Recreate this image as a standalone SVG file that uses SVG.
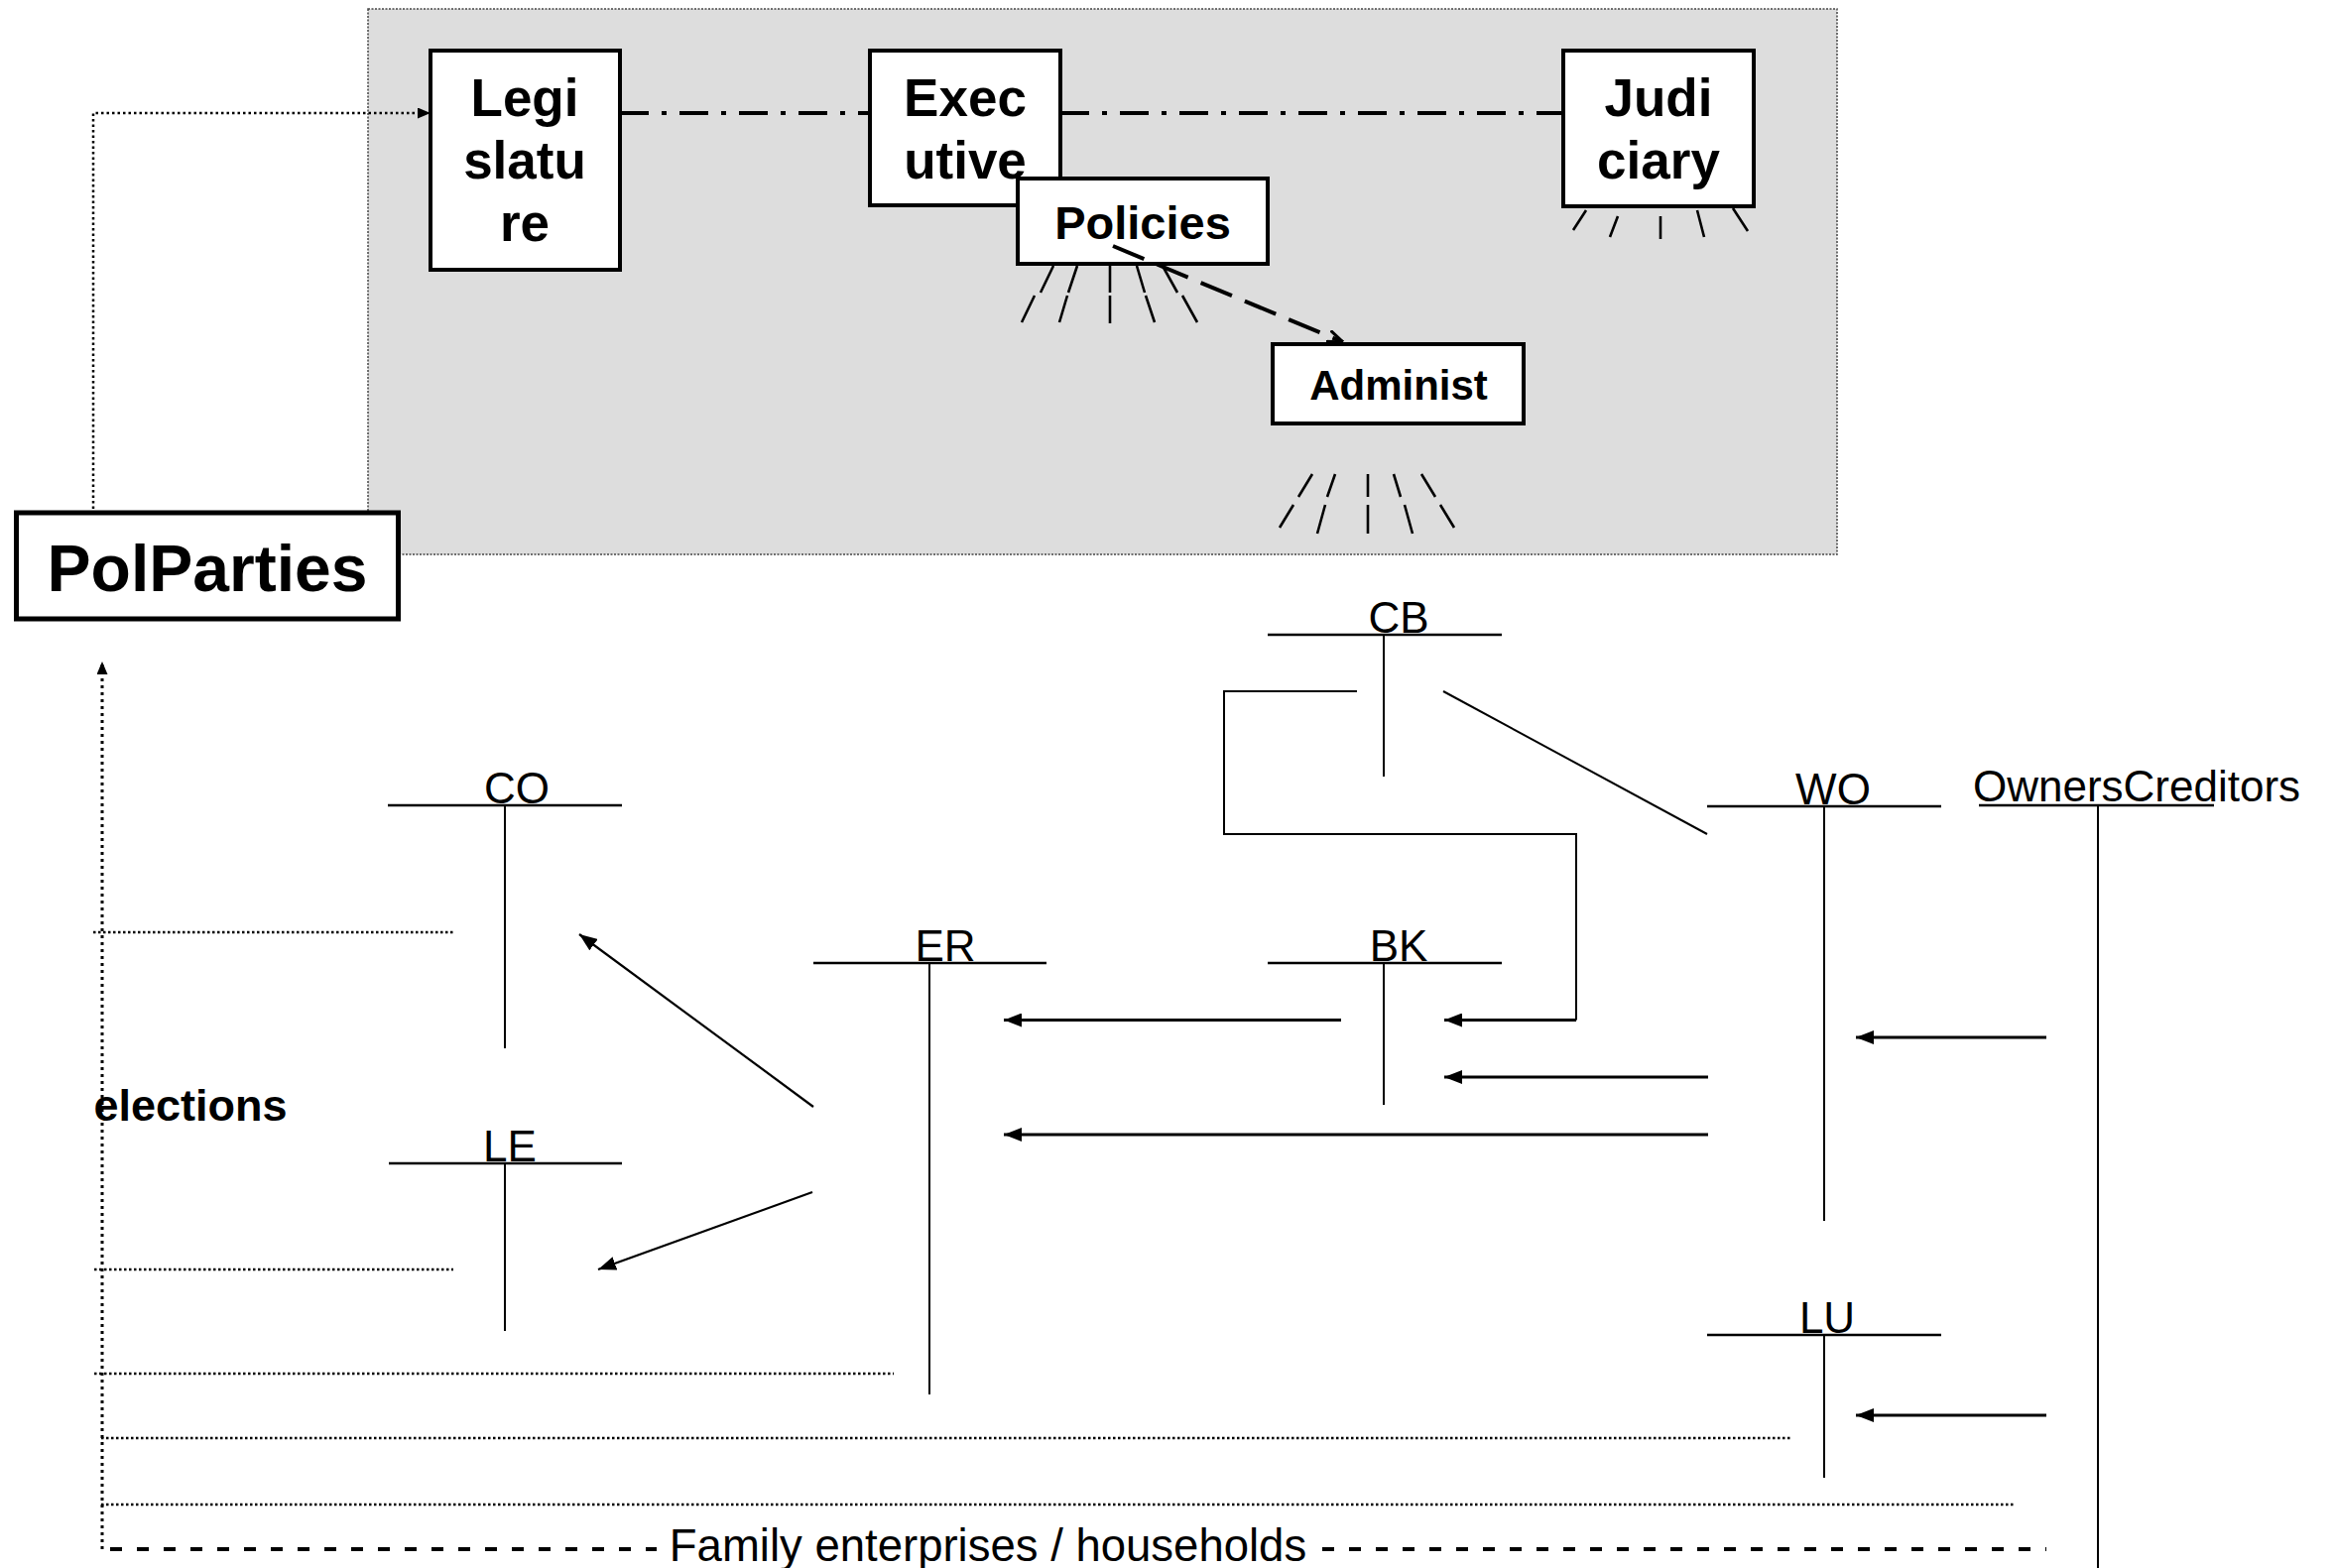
<svg xmlns="http://www.w3.org/2000/svg" width="2355" height="1581" viewBox="0 0 2355 1581">
<style>
.box{fill:#fff;stroke:#000;stroke-width:4}
.bt{font-family:"Liberation Sans",Arial,sans-serif;font-weight:bold;text-anchor:middle;fill:#000}
.lt{font-family:"Liberation Sans",Arial,sans-serif;font-size:44px;text-anchor:middle;fill:#000}
.tl{stroke:#000;stroke-width:2.6;fill:none}
.vl{stroke:#000;stroke-width:2;fill:none}
.ray{stroke:#000;stroke-width:2.6;fill:none}
.arr{stroke:#000;stroke-width:3;fill:none;marker-end:url(#ah)}
.arrt{stroke:#000;stroke-width:2.2;fill:none;marker-end:url(#ah)}
.dot{stroke:#000;stroke-width:2.6;fill:none;stroke-dasharray:2.5 2.5}
.dashdot{stroke:#000;stroke-width:4.2;fill:none;stroke-dasharray:29 13 5 13}
</style>
<defs>
<marker id="ah" markerUnits="userSpaceOnUse" markerWidth="18" markerHeight="14" refX="18" refY="7" orient="auto"><path d="M0,0 L18,7 L0,14 z" fill="#000"/></marker>
<marker id="ahs" markerUnits="userSpaceOnUse" markerWidth="13" markerHeight="11" refX="13" refY="5.5" orient="auto"><path d="M0,0 L13,5.5 L0,11 z" fill="#000"/></marker>
<marker id="ahd" markerUnits="userSpaceOnUse" markerWidth="16" markerHeight="14" refX="16" refY="7" orient="auto"><path d="M0,1 L16,7 L0,13" fill="none" stroke="#000" stroke-width="3"/></marker>
</defs>
<rect x="0" y="0" width="2355" height="1581" fill="#fff"/>
<g id="government">
<rect x="371" y="9" width="1481" height="550" fill="#ddd" stroke="#444" stroke-width="1.5" stroke-dasharray="2 1.5"/>
</g>
<g id="connectors">
<path class="dashdot" d="M625,114 H877"/>
<path class="dashdot" d="M1069,114 H1576"/>
<path d="M94,513 V114 H434" fill="none" stroke="#000" stroke-width="2.5" stroke-dasharray="2.5 3" marker-end="url(#ahs)"/>
<path d="M103,1562 V667" fill="none" stroke="#000" stroke-width="3" stroke-dasharray="3 4" marker-end="url(#ahs)"/>
<path class="dot" d="M94,940 H457"/>
<path class="dot" d="M95,1280 H457"/>
<path class="dot" d="M95,1385 H901"/>
<path class="dot" d="M102,1450 H1807"/>
<path class="dot" d="M102,1517 H2032"/>
<path d="M111,1562 H662 M1333,1562 H2063" fill="none" stroke="#000" stroke-width="4" stroke-dasharray="12 15"/>
<path class="vl" d="M1368,697 H1234 V841 H1589 V1028.5"/>
<line class="arr" x1="1589" y1="1028.5" x2="1456" y2="1028.5"/>
<line class="vl" x1="1455" y1="697" x2="1721" y2="841"/>
<line class="arr" x1="1352" y1="1028.5" x2="1012" y2="1028.5"/>
<line class="arr" x1="1722" y1="1086" x2="1456" y2="1086"/>
<line class="arr" x1="1722" y1="1144" x2="1012" y2="1144"/>
<line class="arr" x1="2063" y1="1046" x2="1871" y2="1046"/>
<line class="arr" x1="2063" y1="1427" x2="1871" y2="1427"/>
<line class="arrt" x1="820" y1="1116" x2="584" y2="942"/>
<line class="arrt" x1="819" y1="1202" x2="603" y2="1280"/>
</g>
<g id="legislature">
<rect class="box" x="434" y="51" width="191" height="221"/>
<text class="bt" font-size="53" x="529" y="117">Legi</text>
<text class="bt" font-size="53" x="529" y="180">slatu</text>
<text class="bt" font-size="53" x="529" y="243">re</text>
</g>
<g id="executive">
<rect class="box" x="877" y="51" width="192" height="156"/>
<text class="bt" font-size="53" x="973" y="117">Exec</text>
<text class="bt" font-size="53" x="973" y="180">utive</text>
</g>
<g id="judiciary">
<rect class="box" x="1576" y="51" width="192" height="157"/>
<text class="bt" font-size="53" x="1672" y="117">Judi</text>
<text class="bt" font-size="53" x="1672" y="180">ciary</text>
<path class="ray" d="M1599,212 L1586,232 M1631,218 L1623,239 M1674,218 L1674,241 M1711,212 L1718,239 M1747,210 L1762,233"/>
</g>
<g id="policies">
<rect class="box" x="1026" y="180" width="252" height="86"/>
<text class="bt" font-size="47" x="1152" y="241">Policies</text>
<path class="ray" d="M1062,268 L1049,295 M1086,268 L1077,295 M1119,268 L1119,295 M1146,268 L1154,295 M1172,268 L1187,295 M1043,298 L1030,325 M1076,298 L1068,325 M1119,298 L1119,326 M1155,298 L1164,325 M1192,298 L1207,325"/>
</g>
<g id="administ">
<rect class="box" x="1283" y="347" width="253" height="80"/>
<text class="bt" font-size="42" x="1410" y="403">Administ</text>
<path class="ray" d="M1323,478 L1309,501 M1346,478 L1338,501 M1379,478 L1379,501 M1405,478 L1412,501 M1433,478 L1447,501 M1304,509 L1290,532 M1336,509 L1328,538 M1379,509 L1379,538 M1416,509 L1424,538 M1452,509 L1466,532"/>
</g>
<path d="M1122,248 L1354,345" fill="none" stroke="#000" stroke-width="4" stroke-dasharray="34 14" marker-end="url(#ahd)"/>
<g id="polparties">
<rect x="16.5" y="517" width="385" height="107" fill="#fff" stroke="#000" stroke-width="5"/>
<text class="bt" font-size="66" x="209" y="596">PolParties</text>
</g>
<g id="CB">
<line class="tl" x1="1278" y1="640" x2="1514" y2="640"/>
<line class="vl" x1="1395" y1="640" x2="1395" y2="783"/>
<text class="lt" x="1410" y="638">CB</text>
</g>
<g id="BK">
<line class="tl" x1="1278" y1="971" x2="1514" y2="971"/>
<line class="vl" x1="1395" y1="971" x2="1395" y2="1114"/>
<text class="lt" x="1410" y="969">BK</text>
</g>
<g id="ER">
<line class="tl" x1="820" y1="971" x2="1055" y2="971"/>
<line class="vl" x1="937" y1="971" x2="937" y2="1406"/>
<text class="lt" x="953" y="969">ER</text>
</g>
<g id="CO">
<line class="tl" x1="391" y1="812" x2="627" y2="812"/>
<line class="vl" x1="509" y1="812" x2="509" y2="1057"/>
<text class="lt" x="521" y="810">CO</text>
</g>
<g id="LE">
<line class="tl" x1="392" y1="1173" x2="627" y2="1173"/>
<line class="vl" x1="509" y1="1173" x2="509" y2="1342"/>
<text class="lt" x="514" y="1171">LE</text>
</g>
<g id="WO">
<line class="tl" x1="1721" y1="813" x2="1957" y2="813"/>
<line class="vl" x1="1839" y1="813" x2="1839" y2="1231"/>
<text class="lt" x="1848" y="811">WO</text>
</g>
<g id="LU">
<line class="tl" x1="1721" y1="1346" x2="1957" y2="1346"/>
<line class="vl" x1="1839" y1="1346" x2="1839" y2="1490"/>
<text class="lt" x="1842" y="1344">LU</text>
</g>
<g id="OwnersCreditors">
<text class="lt" x="2154" y="808">OwnersCreditors</text>
<line class="tl" x1="1995" y1="812" x2="2232" y2="812"/>
<line class="vl" x1="2115" y1="812" x2="2115" y2="1581"/>
</g>
<g id="elections">
<text class="bt" font-size="45" x="192" y="1130">elections</text>
</g>
<g id="family">
<text class="lt" x="996" y="1574" font-size="45.5px" style="font-size:45.5px">Family enterprises / households</text>
</g>
</svg>
